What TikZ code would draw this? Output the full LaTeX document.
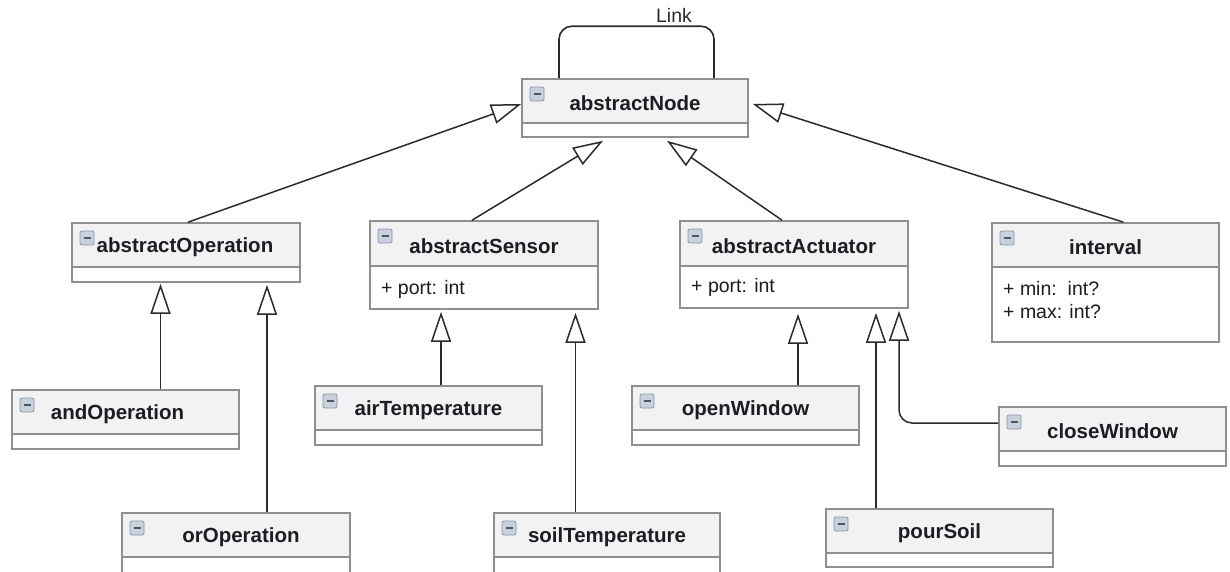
\documentclass[tikz,border=0pt]{standalone}
\usepackage{fontspec}
\setmainfont{Liberation Sans}
\usetikzlibrary{arrows.meta,fit}

\definecolor{hdr}{HTML}{F2F2F2}
\definecolor{boxgray}{HTML}{8F8F8F}
\definecolor{linecol}{HTML}{2B2B2B}
\definecolor{txt}{HTML}{1C1C24}
\definecolor{iconfill}{HTML}{C9D1DC}
\definecolor{iconedge}{HTML}{8795A8}
\definecolor{iconbar}{HTML}{4B5563}

\tikzset{
  classframe/.style={draw=boxgray, line width=1.6pt, inner sep=0pt},
  divider/.style={draw=boxgray, line width=1.6pt},
  classtitle/.style={text=txt, font=\bfseries\fontsize{20.5}{24}\selectfont, inner sep=0pt},
  attr/.style={text=txt, font=\fontsize{19.5}{23}\selectfont, inner sep=0pt, anchor=west},
  iconbox/.style={draw=iconedge, fill=iconfill, line width=0.8pt, rounded corners=2pt},
  iconminus/.style={draw=iconbar, line width=2pt},
  inh/.style={draw=linecol, line width=1.5pt, line join=miter,
    -{Triangle[open, length=30pt, width=20pt]}},
  assoc/.style={draw=linecol, line width=1.6pt, rounded corners=13pt},
}

% class box: name, left, top, right, divider, bottom, title x-offset, title
\newcommand\umlclass[8]{%
  \path[fill=hdr] (#2,#3) rectangle (#4,#5);
  \path[fill=white] (#2,#5) rectangle (#4,#6);
  \draw[divider] (#2,#5) -- (#4,#5);
  \node[classframe, fit={(#2,#3) (#4,#6)}] (#1) {};
  \draw[iconbox] ({#2+8},{#3+8}) rectangle ++(14,14);
  \draw[iconminus] ({#2+11.5},{#3+15}) -- ++(7,0);
  \node[classtitle] (#1-title) at ({(#2+#4)/2+#7},{(#3+#5)/2+2.5}) {#8};
}

\begin{document}
\begin{tikzpicture}[x=1pt,y=-1pt]
\useasboundingbox (0,0) rectangle (1230,571);
\fill[white] (0,0) rectangle (1230,571);
\clip (0,0) rectangle (1230,571);

% classes
\umlclass{abstractNode}{522}{79}{748}{123}{137}{0}{abstractNode}
\umlclass{abstractOperation}{72}{223}{300}{267}{282}{-1}{abstractOperation}
\umlclass{abstractSensor}{370}{221}{598}{266}{309}{0}{abstractSensor}
\umlclass{abstractActuator}{680}{221}{908}{266}{308}{0}{abstractActuator}
\umlclass{interval}{992}{223}{1219}{267}{342}{0}{interval}
\umlclass{andOperation}{12}{390}{239}{434}{449}{-8}{andOperation}
\umlclass{airTemperature}{315}{386}{542}{430}{445}{0}{airTemperature}
\umlclass{openWindow}{632}{386}{859}{430}{445}{0}{openWindow}
\umlclass{closeWindow}{999}{407}{1226}{451}{466}{0}{closeWindow}
\umlclass{orOperation}{122}{513}{350}{557}{585}{5}{orOperation}
\umlclass{soilTemperature}{494}{513}{720}{557}{585}{0}{soilTemperature}
\umlclass{pourSoil}{826}{509}{1053}{553}{567}{0}{pourSoil}

% attributes
\node[attr] (sensorPort) at (381,289) {+ port: int};
\node[attr] (actuatorPort) at (691,287) {+ port: int};
\node[attr] (intervalMin) at (1003,289) {+ min:\ \ int?};
\node[attr] (intervalMax) at (1003,312) {+ max: int?};

% self association
\draw[assoc] ([xshift=-76pt]abstractNode.north) -- ++(0,-52)
  -| ([xshift=79pt]abstractNode.north);
\node[text=linecol, font=\fontsize{19.5}{22}\selectfont, inner sep=0pt] (linkLabel) at (674,15) {Link};

% generalizations towards abstractNode
\draw[inh] ([xshift=2pt]abstractOperation.north) -- ([yshift=4pt]abstractNode.west);
\draw[inh] ([xshift=-12pt]abstractSensor.north) -- ([xshift=-32pt,yshift=-3pt]abstractNode.south);
\draw[inh] ([xshift=-12pt]abstractActuator.north) -- ([xshift=32pt,yshift=-3pt]abstractNode.south);
\draw[inh] ([xshift=18pt]interval.north) -- ([xshift=4pt,yshift=4pt]abstractNode.east);

% generalizations towards abstractOperation
\draw[inh] ([xshift=35pt]andOperation.north) -- ([xshift=35pt,yshift=-1pt]andOperation.north |- abstractOperation.south);
\draw[inh] ([xshift=31pt]orOperation.north) -- ([xshift=31pt,yshift=-2pt]orOperation.north |- abstractOperation.south);

% generalizations towards abstractSensor
\draw[inh] ([xshift=12.5pt]airTemperature.north) -- ([xshift=12.5pt,yshift=-2pt]airTemperature.north |- abstractSensor.south);
\draw[inh] ([xshift=-31.5pt]soilTemperature.north) -- ([xshift=-31.5pt,yshift=-3pt]soilTemperature.north |- abstractSensor.south);

% generalizations towards abstractActuator
\draw[inh] ([xshift=52.5pt]openWindow.north) -- ([xshift=52.5pt,yshift=-5pt]openWindow.north |- abstractActuator.south);
\draw[inh] ([xshift=-63.5pt]pourSoil.north) -- ([xshift=-63.5pt,yshift=-4pt]pourSoil.north |- abstractActuator.south);
\draw[inh, rounded corners=13pt] ([yshift=13.5pt]closeWindow.west)
  -| ([xshift=105pt,yshift=-2pt]abstractActuator.south);
\end{tikzpicture}
\end{document}
